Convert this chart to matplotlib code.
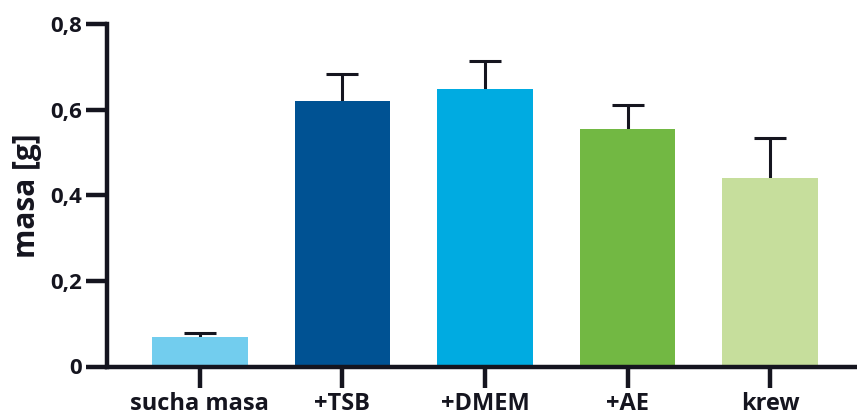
import matplotlib.pyplot as plt
import numpy as np

# mass of the samples after soaking in different media
groups = ["sucha masa", "+TSB", "+DMEM", "+AE", "krew"]
means = [0.068, 0.620, 0.648, 0.555, 0.440]
sd = [0.011, 0.063, 0.065, 0.055, 0.094]
colors = ["#72CDEE", "#005293", "#00ABE1", "#72B843", "#C6DE9C"]
yticks = [0, 0.2, 0.4, 0.6, 0.8]
ytick_labels = ["0", "0,2", "0,4", "0,6", "0,8"]

plt.rcParams["font.family"] = ["Open Sans", "DejaVu Sans"]
plt.rcParams["font.weight"] = "bold"

ink = "#15151f"

fig = plt.figure(figsize=(8.57, 4.16), dpi=100)
ax = fig.add_axes([107 / 857, 49.5 / 416, 1 - 107 / 857, (366.5 - 24) / 416])

x = np.arange(len(groups))
# symmetric error bars sit behind the bars, so only the upper half shows
ax.errorbar(x, means, yerr=sd, fmt="none",
            ecolor=ink, elinewidth=2.2, capsize=11.5, capthick=2.2, zorder=1)
ax.bar(x, means, width=0.673, color=colors, zorder=2)

ax.set_xlim(-0.652, 4.61)
ax.set_ylim(0, 0.8)

ax.set_yticks(yticks)
ax.set_yticklabels(ytick_labels, fontsize=16, fontweight="bold", color=ink)
ax.set_xticks(x)
ax.set_xticklabels(groups, fontsize=17, fontweight="bold", color=ink)
ax.set_ylabel("masa [g]", fontsize=21.5, fontweight="bold", color=ink, labelpad=6)

for side in ("top", "right"):
    ax.spines[side].set_visible(False)
for side in ("left", "bottom"):
    ax.spines[side].set_linewidth(3.2)
    ax.spines[side].set_color(ink)
    ax.spines[side].set_capstyle("projecting")
    ax.spines[side].set_zorder(4)

ax.tick_params(axis="both", direction="out", length=15, width=3.2, color=ink, pad=3)

fig.savefig("out.png", dpi=100)
